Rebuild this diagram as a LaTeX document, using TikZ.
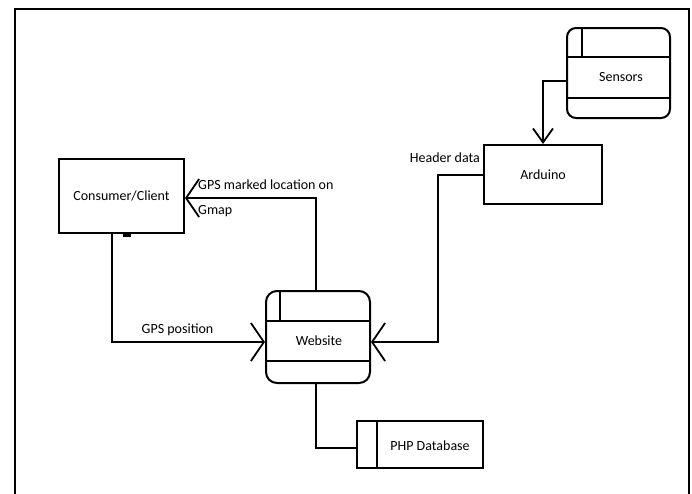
\documentclass[tikz,border=0pt]{standalone}
\usepackage{fontspec}
\setmainfont{Carlito}
\usetikzlibrary{arrows.meta}
\begin{document}
\begin{tikzpicture}[x=1pt,y=-1pt,
  ln/.style={line width=2pt},
  arr/.style={ln,-{Straight Barb[length=13pt,width=38pt,line width=1.8pt]}},
  sarr/.style={ln,-{Straight Barb[length=14pt,width=20pt,line width=1.8pt]}},
  box/.style={draw,line width=2pt,rectangle,inner sep=0pt,font=\fontsize{14}{16}\selectfont},
  lbl/.style={font=\fontsize{14}{16}\selectfont,inner sep=0pt},
]
\useasboundingbox (0,0) rectangle (692,493);
\draw[line width=1.8pt] (15,500) -- (15,9) -- (689,9) -- (689,500);

% Sensors data store
\node[box,rounded corners=9pt,minimum width=103pt,minimum height=90pt] (sensors) at (618.5,73) {};
\draw[ln] (sensors.west |- 0,57) -- (sensors.east |- 0,57);
\draw[ln] (sensors.west |- 0,98) -- (sensors.east |- 0,98);
\draw[ln] (582,0 |- sensors.north) -- (582,57);
\node[lbl] (sensorsT) at (621,77.5) {Sensors};

% Arduino
\node[box,minimum width=118pt,minimum height=59pt] (arduino) at (543,174.5) {Arduino};

% Consumer/Client
\node[box,minimum width=125pt,minimum height=74pt] (consumer) at (121.5,196) {Consumer/Client};
\draw[line width=2.5pt] ([xshift=1pt,yshift=-1.5pt]consumer.south) -- ([xshift=9pt,yshift=-1.5pt]consumer.south);

% Website
\node[box,rounded corners=11pt,minimum width=104pt,minimum height=92pt] (website) at (318,337) {};
\draw[ln] (website.west |- 0,321) -- (website.east |- 0,321);
\draw[ln] (website.west |- 0,361) -- (website.east |- 0,361);
\draw[ln] (280,0 |- website.north) -- (280,321);
\node[lbl] (websiteT) at (319,341) {Website};

% PHP Database
\node[box,minimum width=126pt,minimum height=47pt] (db) at (420,444.5) {};
\draw[ln] (377,0 |- db.north) -- (377,0 |- db.south);
\node[lbl] (dbT) at (430,446) {PHP Database};

% connectors
\coordinate (c1) at (438,342);
\coordinate (c2) at (316,198);
\draw[sarr] ([yshift=-8pt]sensors.west) -| (arduino.north);
\draw[arr] (arduino.west) -| (c1) -- (website.east |- c1);
\draw[arr] (website.north -| c2) -- (c2) -- (consumer.east |- c2);
\draw[arr] ([xshift=-10pt]consumer.south) |- (website.west |- c1);
\draw[ln] (website.south -| c2) |- ([yshift=-3.5pt]db.west);

% labels
\node[lbl,anchor=east] (hd) at (480,158) {Header data};
\node[lbl,anchor=west] (gps1) at (198,185) {GPS marked location on};
\node[lbl,anchor=west] (gps2) at (198,211.5) {Gmap};
\node[lbl] (gpspos) at (177.5,330) {GPS position};
\end{tikzpicture}
\end{document}
